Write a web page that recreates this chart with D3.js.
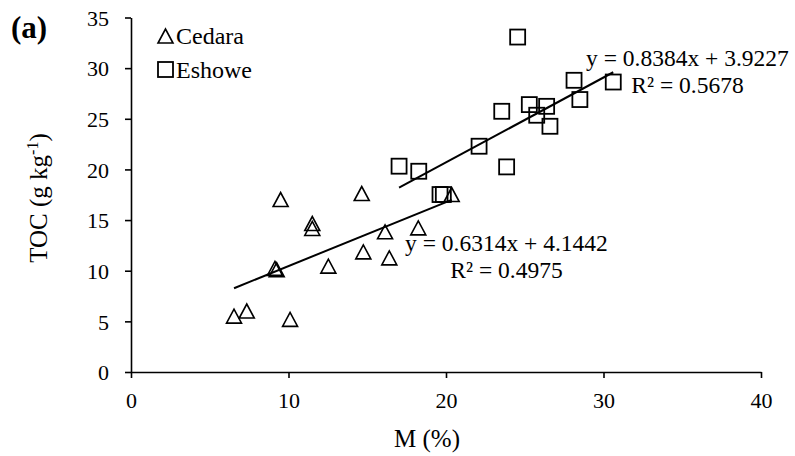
<!DOCTYPE html>
<html>
<head>
<meta charset="utf-8">
<script src="https://cdn.jsdelivr.net/npm/d3@7"></script>
<style>
  html, body { margin: 0; padding: 0; background: #fff; }
  text { font-family: "Liberation Serif", "Times New Roman", serif; fill: #000; }
</style>
</head>
<body>
<svg id="chart" width="795" height="456"></svg>
<script>
// ---- data ----
const cedaraM   = [6.54, 7.35, 10.1, 9.14, 9.25, 9.5, 11.51, 11.51, 12.53, 14.65, 14.75, 16.13, 16.4, 18.24, 20.36];
const cedaraTOC = [5.52, 6.02, 5.2, 10.23, 10.1, 17.03, 14.66, 14.17, 10.45, 17.62, 11.86, 13.84, 11.27, 14.23, 17.52];
const eshoweM   = [17.02, 18.27, 19.62, 19.83, 22.1, 23.54, 23.85, 24.55, 25.29, 25.76, 26.39, 26.6, 28.13, 28.5, 30.62];
const eshoweTOC = [20.32, 19.82, 17.52, 17.52, 22.29, 25.74, 20.25, 33.07, 26.4, 25.35, 26.23, 24.26, 28.8, 26.9, 28.63];
const xTicks = [0, 10, 20, 30, 40];
const yTicks = [0, 5, 10, 15, 20, 25, 30, 35];
const cedaraFit = { slope: 0.6314, intercept: 4.1442, eq: "y = 0.6314x + 4.1442", r2: "R² = 0.4975" };
const eshoweFit = { slope: 0.8384, intercept: 3.9227, eq: "y = 0.8384x + 3.9227", r2: "R² = 0.5678" };
const legendLabels = ["Cedara", "Eshowe"];

// ---- layout ----
const svg = d3.select("#chart");
const x = d3.scaleLinear().domain([0, 40]).range([131, 761]);
const y = d3.scaleLinear().domain([0, 35]).range([372, 17.5]);

// axes
const xAxis = svg.append("g").attr("transform", `translate(0,${y(0)})`)
  .call(d3.axisBottom(x).tickValues(xTicks).tickSize(6).tickPadding(10).tickSizeOuter(0));
const yAxis = svg.append("g").attr("transform", `translate(${x(0)},0)`)
  .call(d3.axisLeft(y).tickValues(yTicks).tickSize(6).tickPadding(16).tickSizeOuter(0));
[xAxis, yAxis].forEach(a => {
  a.selectAll("path, line").attr("stroke", "#000").attr("stroke-width", 1.6);
  a.selectAll("text").style("font-family", "'Liberation Serif', serif").style("font-size", "22px").attr("fill", "#000");
});
yAxis.selectAll("text").attr("dy", "0.35em");
xAxis.selectAll("text").attr("dy", "0.9em");

// axis titles
svg.append("text").attr("x", 427).attr("y", 447).attr("text-anchor", "middle")
  .style("font-size", "25px").attr("fill", "#000").text("M (%)");
const yt = svg.append("text").attr("transform", `translate(47,198) rotate(-90)`)
  .attr("text-anchor", "middle").style("font-size", "25px").attr("fill", "#000");
yt.append("tspan").attr("fill", "#000").text("TOC (g kg");
yt.append("tspan").attr("dy", "-9").attr("fill", "#000").style("font-size", "16px").text("-1");
yt.append("tspan").attr("dy", "9").attr("fill", "#000").text(")");

// panel label
svg.append("text").attr("x", 11).attr("y", 38).style("font-size", "31px").style("font-weight", "bold").attr("fill", "#000").text("(a)");

// markers
const triPath = (cx, cy, w, h) => `M${cx - w/2},${cy + h/2}L${cx + w/2},${cy + h/2}L${cx},${cy - h/2}Z`;
svg.append("g").selectAll("path").data(d3.range(cedaraM.length)).join("path")
  .attr("d", i => triPath(x(cedaraM[i]), y(cedaraTOC[i]), 15, 14))
  .attr("fill", "none").attr("stroke", "#000").attr("stroke-width", 1.6);
svg.append("g").selectAll("rect").data(d3.range(eshoweM.length)).join("rect")
  .attr("x", i => x(eshoweM[i]) - 7.5).attr("y", i => y(eshoweTOC[i]) - 7.5)
  .attr("width", 15).attr("height", 15)
  .attr("fill", "none").attr("stroke", "#000").attr("stroke-width", 1.8);

// trend lines
function trend(mArr, fit) {
  const x0 = d3.min(mArr), x1 = d3.max(mArr);
  svg.append("line")
    .attr("x1", x(x0)).attr("y1", y(fit.slope * x0 + fit.intercept))
    .attr("x2", x(x1)).attr("y2", y(fit.slope * x1 + fit.intercept))
    .attr("stroke", "#000").attr("stroke-width", 2);
}
trend(cedaraM, cedaraFit);
trend(eshoweM, eshoweFit);

// equations
function eqLabel(cx, by, fit) {
  svg.append("text").attr("x", cx).attr("y", by).attr("text-anchor", "middle").style("font-size", "23.5px").text(fit.eq);
  svg.append("text").attr("x", cx).attr("y", by + 27).attr("text-anchor", "middle").style("font-size", "23.5px").text(fit.r2);
}
eqLabel(506.5, 251, cedaraFit);
eqLabel(687.5, 66, eshoweFit);

// legend
svg.append("path").attr("d", triPath(165.5, 36, 15, 14)).attr("fill", "none").attr("stroke", "#000").attr("stroke-width", 1.6);
svg.append("rect").attr("x", 158).attr("y", 62).attr("width", 15).attr("height", 15)
  .attr("fill", "none").attr("stroke", "#000").attr("stroke-width", 1.8);
svg.append("text").attr("x", 176).attr("y", 44).style("font-size", "24px").text(legendLabels[0]);
svg.append("text").attr("x", 176).attr("y", 78).style("font-size", "24px").text(legendLabels[1]);
</script>
</body>
</html>
